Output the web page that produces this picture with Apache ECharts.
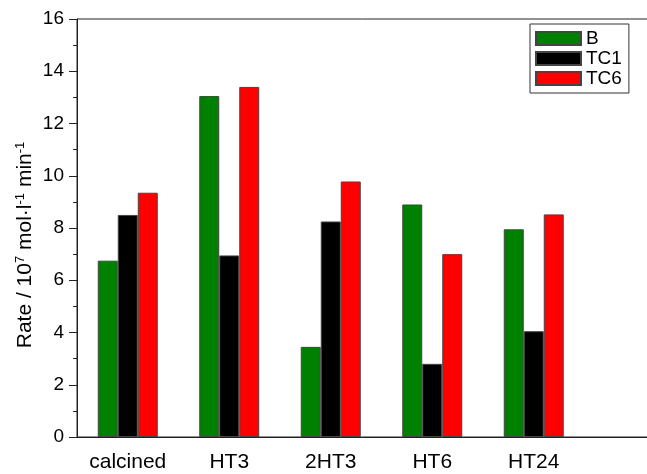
<!DOCTYPE html>
<html>
<head>
<meta charset="utf-8">
<script src="https://cdn.jsdelivr.net/npm/echarts@6/dist/echarts.min.js"></script>
<style>
html,body{margin:0;padding:0;background:#fff;}
#chart{width:647px;height:474px;}
</style>
</head>
<body>
<div id="chart"></div>
<script>
var categories = ['calcined', 'HT3', '2HT3', 'HT6', 'HT24'];
var seriesNames = ['B', 'TC1', 'TC6'];
var valuesB = [6.75, 13.05, 3.45, 8.9, 7.95];
var valuesTC1 = [8.5, 6.95, 8.25, 2.8, 4.05];
var valuesTC6 = [9.35, 13.4, 9.78, 7.0, 8.52];
var colors = ['#008000', '#000000', '#ff0000'];
var yTicks = { min: 0, max: 16, interval: 2 };

// the plotted x range runs on past the last category (the frame is cut by the picture edge)
var axisCategories = categories.concat(['']);

var font = 'Liberation Sans, Arial, sans-serif';
var chart = echarts.init(document.getElementById('chart'), null, { renderer: 'canvas' });

function bar(name, data, color) {
  return {
    name: name, type: 'bar', data: data, xAxisIndex: 0,
    barWidth: 20, barGap: '0%',
    itemStyle: { color: color, borderColor: '#444', borderWidth: 1 }
  };
}

chart.setOption({
  animation: false,
  backgroundColor: '#fff',
  grid: { left: 77, width: 609, top: 19, bottom: 37, show: true, borderColor: '#222', borderWidth: 1, containLabel: false, outerBoundsMode: 'none' },
  legend: {
    orient: 'vertical', left: 530, top: 24,
    data: seriesNames,
    icon: 'rect',
    itemWidth: 45, itemHeight: 13, itemGap: 1,
    padding: [5, 7, 5, 5],
    borderColor: '#333', borderWidth: 1,
    textStyle: { fontFamily: font, fontSize: 19, lineHeight: 16, color: '#000', padding: [0, 0, 0, 0] }
  },
  xAxis: [{
    type: 'category', data: axisCategories, position: 'bottom',
    axisLine: { lineStyle: { color: '#222', width: 1 } },
    axisTick: { alignWithLabel: true, length: 8, interval: function (i) { return i < categories.length; }, lineStyle: { color: '#222' } },
    axisLabel: { fontFamily: font, fontSize: 21, color: '#000', margin: 15, interval: 0 },
    splitLine: { show: false }
  }, {
    type: 'category', data: axisCategories, position: 'bottom',
    axisLine: { show: false },
    axisTick: { alignWithLabel: false, length: 4, lineStyle: { color: '#222' } },
    axisLabel: { show: false },
    splitLine: { show: false }
  }],
  yAxis: {
    type: 'value', min: yTicks.min, max: yTicks.max, interval: yTicks.interval,
    axisLine: { show: true, lineStyle: { color: '#222', width: 1 } },
    axisTick: { show: true, length: 8, lineStyle: { color: '#222' } },
    minorTick: { show: true, splitNumber: 2, length: 4, lineStyle: { color: '#222' } },
    axisLabel: { fontFamily: font, fontSize: 19, color: '#000', margin: 13 },
    splitLine: { show: false }
  },
  graphic: [{
    type: 'text', x: 25, y: 245, rotation: Math.PI / 2,
    style: {
      text: 'Rate / 10{sup|7} mol·l{sup|-1} min{sup|-1}',
      fontFamily: font, fontSize: 21, fill: '#000',
      align: 'center', verticalAlign: 'middle',
      rich: {
        sup: { fontFamily: font, fontSize: 13, fill: '#000', verticalAlign: 'top', lineHeight: 23 }
      }
    }
  }],
  series: [
    bar(seriesNames[0], valuesB, colors[0]),
    bar(seriesNames[1], valuesTC1, colors[1]),
    bar(seriesNames[2], valuesTC6, colors[2])
  ]
});
</script>
</body>
</html>
